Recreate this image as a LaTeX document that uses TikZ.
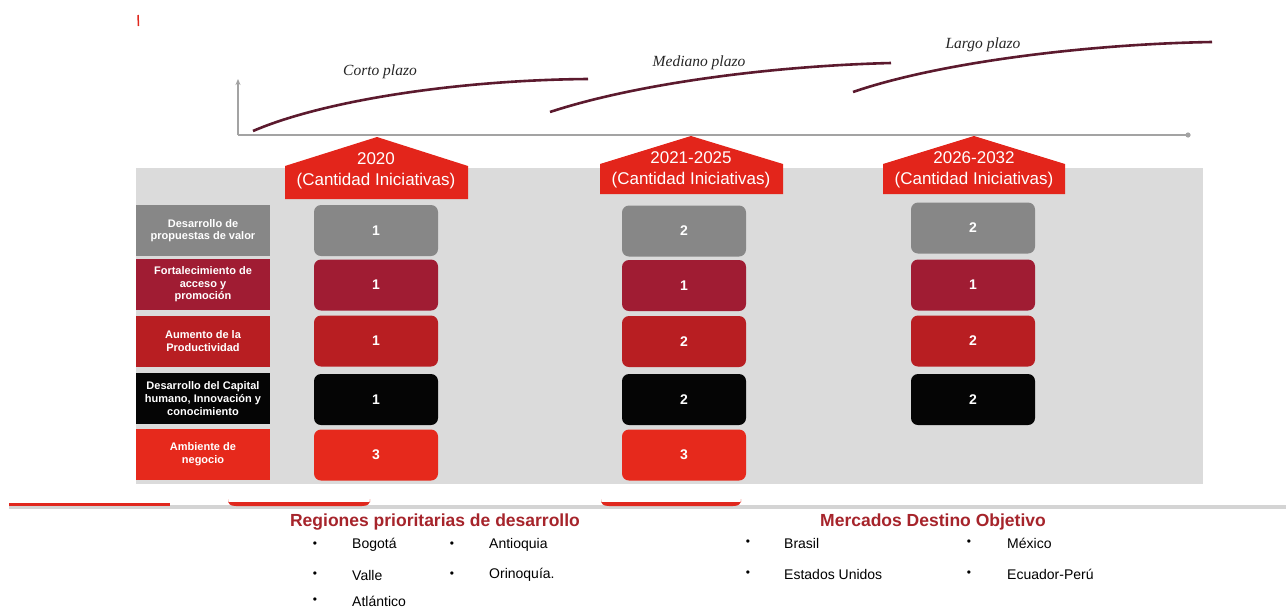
\documentclass[tikz,border=0pt]{standalone}
\usepackage{fontspec}
\setmainfont{Liberation Sans}
\newfontfamily\seriffont{Liberation Serif}
\usetikzlibrary{arrows.meta}
\definecolor{bandgray}{HTML}{DBDBDB}
\definecolor{axisgray}{HTML}{A3A3A3}
\definecolor{curvecol}{HTML}{5C1A2E}
\definecolor{pentred}{HTML}{E3251B}
\definecolor{cgray}{HTML}{878787}
\definecolor{cmaroon}{HTML}{A01C33}
\definecolor{cred}{HTML}{B81E22}
\definecolor{cblack}{HTML}{050505}
\definecolor{cbright}{HTML}{E6291C}
\definecolor{titlered}{HTML}{A6242B}
\definecolor{linegray}{HTML}{D4D4D4}
\definecolor{lineredc}{HTML}{E0281E}
\begin{document}
\begin{tikzpicture}[x=1pt,y=-1pt,
  lbl/.style={fill=#1, minimum width=134pt, minimum height=51pt, inner sep=0pt, text=white,
    font=\bfseries\fontsize{11}{12.6}\selectfont, align=center},
  val/.style={fill=#1, rounded corners=7pt, minimum width=124pt, minimum height=51pt, inner sep=0pt,
    text=white, font=\bfseries\fontsize{14}{16}\selectfont},
  penttext/.style={text=white, font=\fontsize{17}{21}\selectfont, align=center, inner sep=0pt},
  plazo/.style={font=\seriffont\itshape\fontsize{15.5}{18}\selectfont, text=black!85, inner sep=0pt},
  curve/.style={draw=curvecol, line width=2.6pt},
  axis/.style={draw=axisgray, line width=1.8pt},
  listtitle/.style={font=\bfseries\fontsize{17.5}{20}\selectfont, text=titlered, inner sep=0pt},
  item/.style={font=\fontsize{14}{16}\selectfont, anchor=west, inner sep=0pt},
  bul/.style={font=\fontsize{12}{14}\selectfont, inner sep=0pt},
  pent/.style={fill=pentred}
]
\useasboundingbox (0,0) rectangle (1286,611);
\fill[white] (0,0) rectangle (1286,611);

% small red tick
\draw[lineredc, line width=1.5pt] (138,15) -- (138.5,26);

% axes
\coordinate (o) at (238,135);
\coordinate (ytop) at (238,79);
\coordinate (xend) at (1188,135);
\draw[axis, -{Stealth[length=6pt,width=5pt]}] (o) -- (ytop);
\draw[axis] (o) -- (xend);
\fill[axisgray] (xend) circle (2.6pt);

% curves
\coordinate (c1s) at (253,131); \coordinate (c1e) at (588,79);
\coordinate (c2s) at (550,112); \coordinate (c2e) at (891,63);
\coordinate (c3s) at (853,92);  \coordinate (c3e) at (1212,42);
\draw[curve] (c1s) .. controls (325,100) and (460,80) .. (c1e);
\draw[curve] (c2s) .. controls (635,84) and (770,66) .. (c2e);
\draw[curve] (c3s) .. controls (940,62) and (1090,44) .. (c3e);

\node[plazo] (corto) at (380,72) {Corto plazo};
\node[plazo] (mediano) at (699,63) {Mediano plazo};
\node[plazo] (largo) at (983,45) {Largo plazo};

% band
\fill[bandgray] (136,168) rectangle (1203,484);

% pentagons
\fill[pent] (285,166) -- (377,137) -- (468,166) -- (468,199) -- (285,199) -- cycle;
\fill[pent] (600,164) -- (691,136) -- (783,164) -- (783,194) -- (600,194) -- cycle;
\fill[pent] (883,164) -- (974,136) -- (1065,164) -- (1065,194) -- (883,194) -- cycle;
\node[penttext] (p1) at (376,171) {2020\\(Cantidad Iniciativas)};
\node[penttext] (p2) at (691,170) {2021-2025\\(Cantidad Iniciativas)};
\node[penttext] (p3) at (974,170) {2026-2032\\(Cantidad Iniciativas)};

% row labels
\node[lbl=cgray]    (l1) at (203,230.5) {Desarrollo de\\propuestas de valor};
\node[lbl=cmaroon]  (l2) at (203,284.5) {Fortalecimiento de\\acceso y\\promoción};
\node[lbl=cred]     (l3) at (203,341)   {Aumento de la\\Productividad};
\node[lbl=cblack]   (l4) at (203,398.5) {Desarrollo del Capital\\humano, Innovación y\\conocimiento};
\node[lbl=cbright]  (l5) at (203,454)   {Ambiente de\\negocio};

% column 1
\node[val=cgray]   (a1) at (376,230.5) {1};
\node[val=cmaroon] (a2) at (376,285)   {1};
\node[val=cred]    (a3) at (376,341)   {1};
\node[val=cblack]  (a4) at (376,399.5) {1};
\node[val=cbright] (a5) at (376,455)   {3};
% column 2
\node[val=cgray]   (b1) at (684,231)   {2};
\node[val=cmaroon] (b2) at (684,285.5) {1};
\node[val=cred]    (b3) at (684,341.5) {2};
\node[val=cblack]  (b4) at (684,399.5) {2};
\node[val=cbright] (b5) at (684,455)   {3};
% column 3
\node[val=cgray]   (d1) at (973,228)   {2};
\node[val=cmaroon] (d2) at (973,285)   {1};
\node[val=cred]    (d3) at (973,341)   {2};
\node[val=cblack]  (d4) at (973,399.5) {2};

% bottom lines
\fill[linegray] (9,505) rectangle (1286,509);
\fill[lineredc] (9,502.5) rectangle (170,506);
\fill[lineredc] (228,499) .. controls (228,504) and (230,506) .. (236,506) -- (362,506)
   .. controls (368,506) and (370,504) .. (370,499) -- (370,502) -- (228,502) -- cycle;
\fill[lineredc] (601,499) .. controls (601,504) and (603,506) .. (609,506) -- (733,506)
   .. controls (739,506) and (741,504) .. (741,499) -- (741,502) -- (601,502) -- cycle;

% lists
\node[listtitle] (t1) at (435,522) {Regiones prioritarias de desarrollo};
\node[bul] (r1b) at (315,545) {•}; \node[item] (r1) at (352,545) {Bogotá};
\node[bul] (r2b) at (452,545) {•}; \node[item] (r2) at (489,545) {Antioquia};
\node[bul] (r3b) at (315,575) {•}; \node[item] (r3) at (352,575) {Valle};
\node[bul] (r4b) at (452,575) {•}; \node[item] (r4) at (489,575) {Orinoquía.};
\node[bul] (r5b) at (315,601) {•}; \node[item] (r5) at (352,601) {Atlántico};

\node[listtitle] (t2) at (933,522) {Mercados Destino Objetivo};
\node[bul] (m1b) at (748,543) {•}; \node[item] (m1) at (784,543) {Brasil};
\node[bul] (m2b) at (969,543) {•}; \node[item] (m2) at (1007,543) {México};
\node[bul] (m3b) at (748,574) {•}; \node[item] (m3) at (784,574) {Estados Unidos};
\node[bul] (m4b) at (969,574) {•}; \node[item] (m4) at (1007,574) {Ecuador-Perú};
\end{tikzpicture}
\end{document}
